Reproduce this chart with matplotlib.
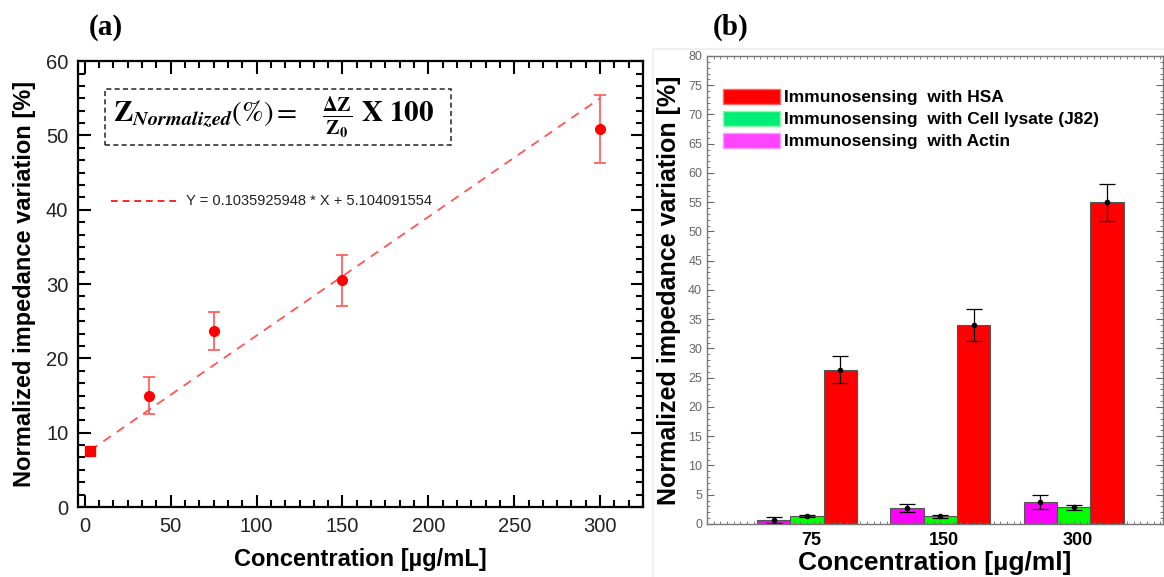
import numpy as np
import matplotlib
matplotlib.use('Agg')
from matplotlib import pyplot as plt
from matplotlib.ticker import MultipleLocator, AutoMinorLocator
from matplotlib.patches import Rectangle, Patch

# (a) calibration data
conc_a = [3, 37.5, 75, 150, 300]
resp_a = [7.6, 15.0, 23.7, 30.5, 50.9]
err_a = [0.3, 2.45, 2.55, 3.45, 4.6]
# dashed fit as drawn in the picture
fit_slope = 0.1596
fit_icpt = 7.12
fit_label = 'Y = 0.1035925948 * X + 5.104091554'

# (b) selectivity bars
groups_b = ['75', '150', '300']
actin = [0.67, 2.67, 3.8]
actin_err = [0.55, 0.7, 1.2]
lysate = [1.4, 1.3, 2.85]
lysate_err = [0.15, 0.2, 0.45]
hsa = [26.4, 34.0, 55.0]
hsa_err = [2.3, 2.75, 3.15]
labels_b = ['Immunosensing  with HSA',
            'Immunosensing  with Cell lysate (J82)',
            'Immunosensing  with Actin']

plt.rcParams['font.family'] = ['Liberation Sans', 'DejaVu Sans']
plt.rcParams['mathtext.fontset'] = 'stix'

fig = plt.figure(figsize=(11.64, 5.77), dpi=100)

# faint frame of the pasted panel (b)
fig.patches.append(Rectangle((0.561, -0.01), 0.45, 0.925, transform=fig.transFigure,
                             fill=False, edgecolor='#eeeeee', lw=1.2))

# ---------- (a)
ax = fig.add_axes([0.067, 0.1213, 0.4854, 0.7727])
xs = np.array([conc_a[0], conc_a[-1]])
ax.plot(xs, fit_slope * xs + fit_icpt, '--', color='#ff5555', lw=1.3, dashes=(5, 4))
ax.errorbar(conc_a[1:], resp_a[1:], yerr=err_a[1:], fmt='o', color='red', ms=7,
            ecolor='#ff5555', elinewidth=1.2, capsize=4, capthick=1.2)
ax.errorbar(conc_a[:1], resp_a[:1], yerr=err_a[:1], fmt='s', color='red', ms=6.5,
            ecolor='#ff5555', capsize=3)
ax.set_xlim(-4, 325)
ax.set_ylim(0, 60)
ax.xaxis.set_major_locator(MultipleLocator(50))
ax.yaxis.set_major_locator(MultipleLocator(10))
ax.xaxis.set_minor_locator(AutoMinorLocator(6))
ax.yaxis.set_minor_locator(AutoMinorLocator(6))
ax.tick_params(which='both', direction='in', top=True, right=True, width=1.5,
               labelsize=14.5, labelcolor='#222222', pad=7)
ax.tick_params(which='major', length=9)
ax.tick_params(which='minor', length=5)
for s in ax.spines.values():
    s.set_linewidth(1.6)
ax.set_xlabel('Concentration [µg/mL]', fontsize=17, fontweight='bold', labelpad=9)
ax.set_ylabel('Normalized impedance variation [%]', fontsize=17, fontweight='bold', labelpad=7)

ax.add_patch(Rectangle((0.048, 0.811), 0.612, 0.127, transform=ax.transAxes, fill=False,
                       ls=(0, (3, 2)), lw=1.2, edgecolor='#333333'))
ax.text(0.062, 0.872,
        r'$\mathbf{Z}_{\mathbfit{Normalized}}(\%) =\ \ \ \frac{\mathbf{\Delta Z}}{\mathbf{Z_0}}\ \mathbf{X\ 100}$',
        transform=ax.transAxes, fontsize=21, va='center', ha='left')
ax.plot([0.058, 0.178], [0.687, 0.687], '--', color='red', lw=1.2, dashes=(4, 3),
        transform=ax.transAxes)
ax.text(0.192, 0.687, fit_label, transform=ax.transAxes, fontsize=10.5,
        va='center', ha='left', color='#222222')
fig.text(0.076, 0.94, '(a)', fontsize=21, fontweight='bold', family='Liberation Serif')

# ---------- (b)
bx = fig.add_axes([0.6074, 0.0919, 0.3916, 0.8111])
pos = np.arange(len(groups_b))
w = 0.25
ekw = dict(ecolor='black', elinewidth=0.9, capsize=6, capthick=0.9)
bx.bar(pos - w, actin, w, color='#ff00ff', edgecolor='#555555', lw=0.8)
bx.bar(pos, lysate, w, color='#00ff00', edgecolor='#555555', lw=0.8)
bx.bar(pos + w, hsa, w, color='#ff0000', edgecolor='#555555', lw=0.8)
bx.errorbar(pos - w, actin, yerr=actin_err, fmt='o', color='black', ms=3, **ekw)
bx.errorbar(pos, lysate, yerr=lysate_err, fmt='o', color='black', ms=3, **ekw)
bx.errorbar(pos + w, hsa, yerr=hsa_err, fmt='o', color='black', ms=3, **ekw)
bx.set_xlim(-0.75, 2.67)
bx.set_ylim(0, 80)
bx.set_xticks(pos + 0.03)
bx.set_xticklabels(groups_b, fontsize=13, fontweight='bold')
bx.xaxis.set_minor_locator(MultipleLocator(0.05))
bx.yaxis.set_major_locator(MultipleLocator(5))
bx.yaxis.set_minor_locator(MultipleLocator(1))
bx.tick_params(axis='y', which='both', direction='in', right=True, labelsize=9,
               labelcolor='#666666', color='#666666')
bx.tick_params(axis='y', which='major', length=5)
bx.tick_params(axis='y', which='minor', length=2.5)
bx.tick_params(axis='x', which='major', length=0, pad=6)
bx.tick_params(axis='x', which='minor', direction='in', top=True, length=2.5, color='#666666')
for s in bx.spines.values():
    s.set_color('#777777')
    s.set_linewidth(1.0)
bx.set_xlabel('Concentration [µg/ml]', fontsize=19, fontweight='bold', labelpad=1)
bx.set_ylabel('Normalized impedance variation [%]', fontsize=18, fontweight='bold', labelpad=5)
handles = [Patch(facecolor='#ff0000', edgecolor='#ff6666'),
           Patch(facecolor='#00ee77', edgecolor='#88ffaa'),
           Patch(facecolor='#ff44ff', edgecolor='#ff99ff')]
bx.legend(handles, labels_b, loc='upper left', bbox_to_anchor=(0.02, 0.945), frameon=False,
          handlelength=3.3, handleheight=1.0, handletextpad=0.2, labelspacing=0.3,
          prop={'weight': 'bold', 'size': 12.5}, borderaxespad=0)
fig.text(0.612, 0.94, '(b)', fontsize=21, fontweight='bold', family='Liberation Serif')

fig.savefig('out.png', dpi=100)
